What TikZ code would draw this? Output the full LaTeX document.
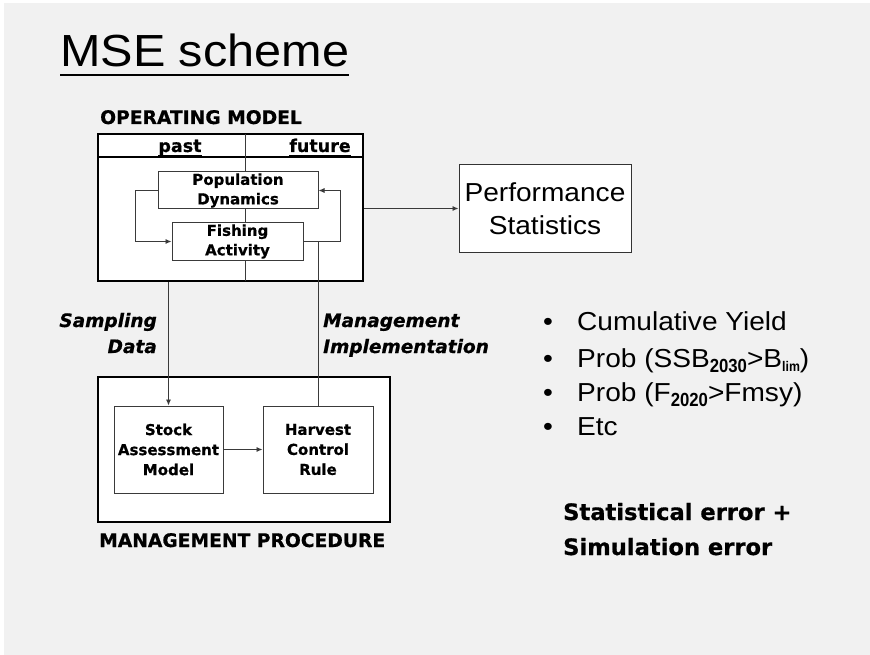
\documentclass[tikz,border=0pt]{standalone}
\usepackage{fontspec}
\setmainfont{Liberation Sans}
\newfontfamily\arl[FakeStretch=1.08]{Liberation Sans}
\newfontfamily\arn[FakeStretch=0.88]{Liberation Sans}
\newfontfamily\tah[BoldFeatures={FakeBold=0.7},BoldItalicFeatures={FakeBold=0.7}]{DejaVu Sans}
\usetikzlibrary{arrows.meta,calc}
\definecolor{bg}{HTML}{F1F1F1}
\definecolor{ln}{HTML}{3A3A3A}
\begin{document}
\begin{tikzpicture}[x=1pt,y=-1pt,
  outer/.style={draw=black, line width=1.8pt, fill=white, inner sep=0pt},
  inner/.style={draw=ln, line width=1pt, fill=white, inner sep=0pt},
  conn/.style={draw=ln, line width=0.9pt},
  arr/.style={conn, -{Latex[length=6pt,width=5pt]}},
  boxtxt/.style={font=\tah\bfseries\fontsize{15}{19.5}\selectfont, align=center},
  captxt/.style={font=\tah\bfseries\fontsize{18.7}{22}\selectfont, inner sep=0pt},
  lbl/.style={font=\tah\bfseries\itshape\fontsize{18.5}{26}\selectfont, inner sep=0pt},
  hdr/.style={font=\tah\bfseries\fontsize{17.5}{20}\selectfont, inner sep=0pt},
  bul/.style={font=\arl\fontsize{26}{30}\selectfont, inner sep=0pt},
  err/.style={font=\tah\bfseries\fontsize{22.6}{26}\selectfont, inner sep=0pt}
]
% background
\useasboundingbox (0,0) rectangle (870,655);
\fill[bg] (-5,-5) rectangle (875,660);
\fill[white] (-5,-5) rectangle (4,660);
\fill[white] (-5,-5) rectangle (875,3);

% title
\node[anchor=base west, inner sep=0pt, font=\arl\fontsize{45}{50}\selectfont] (title) at (60,67) {MSE scheme};
\draw[line width=2.4pt] ($(title.base west)+(0,8)$) -- ($(title.base east)+(0,8)$);

% operating model
\node[captxt, anchor=base west] (omlabel) at (100,124) {OPERATING MODEL};
\node[outer, minimum width=265pt, minimum height=147pt] (om) at (230.5,207.5) {};
\draw[line width=1.2pt] (98,157) -- (363,157);
\draw[conn] (245,134) -- (245,281);
\node[hdr, anchor=base] (past) at (180,152) {past};
\node[hdr, anchor=base] (future) at (320,152) {future};
\draw[line width=1.2pt] ($(past.base west)+(0,3.5)$) -- ($(past.base east)+(0,3.5)$);
\draw[line width=1.2pt] ($(future.base west)+(0,3.5)$) -- ($(future.base east)+(0,3.5)$);

\node[inner, boxtxt, minimum width=160pt, minimum height=37pt] (pop) at (238,190.5) {Population\\Dynamics};
\node[inner, boxtxt, minimum width=131pt, minimum height=37pt] (fish) at (237.5,241.5) {Fishing\\Activity};

% management procedure
\node[outer, minimum width=292pt, minimum height=145pt] (mp) at (244,449.5) {};
\node[inner, boxtxt, text width=105pt, minimum width=109pt, minimum height=87pt, font=\tah\bfseries\fontsize{15}{20}\selectfont] (sam) at (168.5,449.5) {Stock\\Assessment\\Model};
\node[inner, boxtxt, text width=105pt, minimum width=110pt, minimum height=87pt, font=\tah\bfseries\fontsize{15}{20}\selectfont] (hcr) at (318,449.5) {Harvest\\Control\\Rule};
\node[captxt, anchor=base west] (mplabel) at (99,547) {MANAGEMENT PROCEDURE};

% performance statistics
\node[inner, draw=black!80, minimum width=172pt, minimum height=87pt, align=center, font=\arl\fontsize{26}{33}\selectfont] (perf) at (545,208.5) {Performance\\Statistics};

% connectors
\draw[arr] (pop.west) -- ++(-22,0) |- (fish.west);
\draw[arr] (fish.east) -- ++(37,0) |- (pop.east);
\draw[arr] (sam.north |- om.south) -- (sam.north);
\draw[conn] (hcr.north) -- (hcr.north |- fish.east);
\draw[arr] (sam.east) -- (hcr.west);
\draw[arr] (perf.west -| om.east) -- (perf.west);

% connector labels
\node[lbl, anchor=base east] (samp1) at (157,327) {Sampling};
\node[lbl, anchor=base east] (samp2) at (157,353) {Data};
\node[lbl, anchor=base west] (mi1) at (323,327) {Management};
\node[lbl, anchor=base west] (mi2) at (323,353) {Implementation};

% bullets
\node[bul, anchor=base] (b1) at (548,330) {•};
\node[bul, anchor=base] (b2) at (548,367) {•};
\node[bul, anchor=base] (b3) at (548,401) {•};
\node[bul, anchor=base] (b4) at (548,435) {•};
\node[bul, anchor=base west] (t1) at (577,330) {Cumulative Yield};
\node[bul, anchor=base west] (t2) at (577,367) {Prob (SSB\raisebox{-5pt}{\arn\bfseries\fontsize{19}{19}\selectfont 2030}>B\raisebox{-4pt}{\arn\bfseries\fontsize{14}{14}\selectfont lim})};
\node[bul, anchor=base west] (t3) at (577,401) {Prob (F\raisebox{-5pt}{\arn\bfseries\fontsize{19}{19}\selectfont 2020}>Fmsy)};
\node[bul, anchor=base west] (t4) at (577,435) {Etc};

% errors
\node[err, anchor=base west] (e1) at (563,520) {Statistical error +};
\node[err, anchor=base west] (e2) at (563,555) {Simulation error};
\end{tikzpicture}
\end{document}
